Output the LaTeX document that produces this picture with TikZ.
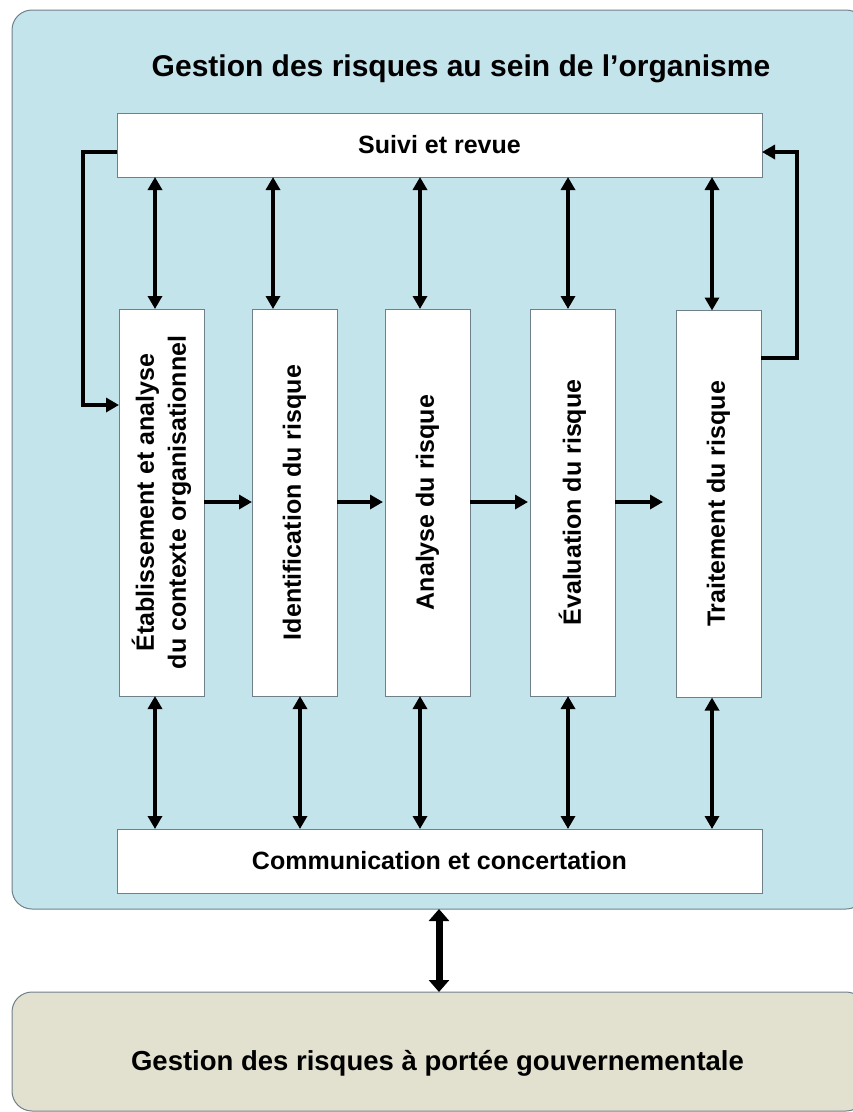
\documentclass[tikz,border=0pt]{standalone}
\usepackage{fontspec}
\setmainfont{Liberation Sans}
\usetikzlibrary{arrows.meta}
\definecolor{orgblue}{RGB}{196,228,236}
\definecolor{govbeige}{RGB}{226,224,207}
\definecolor{boxline}{RGB}{112,128,138}
\tikzset{
  panel/.style={draw=boxline, line width=1pt, rounded corners=20pt, inner sep=0pt, outer sep=0pt},
  box/.style={draw=boxline, fill=white, line width=1pt, inner sep=0pt, outer sep=0pt},
  stage/.style={box, minimum width=85pt, minimum height=387pt},
  stagetext/.style={rotate=90, align=center, font=\fontsize{25}{32}\selectfont\bfseries},
  link/.style={line width=3.5pt},
}
\begin{document}
\begin{tikzpicture}[x=1pt, y=-1pt, >={Triangle[length=13pt,width=14pt]},
  every node/.style={font=\fontsize{25}{30}\selectfont\bfseries}]
\useasboundingbox (0,0) rectangle (853,1112);
% the two panels
\node[panel, fill=orgblue, minimum width=854pt, minimum height=899pt] (org) at (439,459.5) {};
\node[panel, fill=govbeige, minimum width=854pt, minimum height=119pt] (gov) at (439,1051.5) {};
\node[font=\fontsize{30}{36}\selectfont\bfseries] (title) at (461,69) {Gestion des risques au sein de l’organisme};
\node[font=\fontsize{27.5}{33}\selectfont\bfseries] (govtext) at (437.5,1063) {Gestion des risques à portée gouvernementale};
% top and bottom bars
\node[box, minimum width=645pt, minimum height=64pt] (suivi) at (439.5,145) {Suivi et revue};
\node[box, minimum width=645pt, minimum height=64pt] (comm) at (439.5,861) {Communication et concertation};
% process steps
\foreach \n/\x/\y in {1/161.5/502.5, 2/294.5/502.5, 3/427.5/502.5, 4/572.5/502.5, 5/718.5/504}
  {\node[stage] (e\n) at (\x,\y) {};}
\node[stagetext] (t1) at (e1) {Établissement et analyse\\du contexte organisationnel};
\node[stagetext] (t2) at (e2) {Identification du risque};
\node[stagetext] (t3) at (e3) {Analyse du risque};
\node[stagetext] (t4) at (e4) {Évaluation du risque};
\node[stagetext] (t5) at (e5) {Traitement du risque};
% links to the bars
\foreach \n/\xt/\xb in {1/155/155, 2/273/300, 3/420/420, 4/568/568, 5/712/712} {
  \draw[link, <->] (suivi.south -| \xt,0) -- (e\n.north -| \xt,0);
  \draw[link, <->] (e\n.south -| \xb,0) -- (comm.north -| \xb,0);
}
% flow between steps
\foreach \a/\b/\s in {1/2/0, 2/3/2, 3/4/2, 4/5/13}
  {\draw[link, ->, shorten >=\s pt] (e\a.east |- 0,502) -- (e\b.west |- 0,502);}
% feedback loops
\draw[link, ->] (suivi.west |- 0,152) -| (83,405) -- (e1.west |- 0,405);
\draw[link, ->] (e5.east |- 0,358) -| (797,152) -- (suivi.east |- 0,152);
% link to government level
\draw[line width=7pt, {Triangle[length=12pt,width=20pt]}-{Triangle[length=12pt,width=20pt]}] (org.south) -- (gov.north);
\end{tikzpicture}
\end{document}
